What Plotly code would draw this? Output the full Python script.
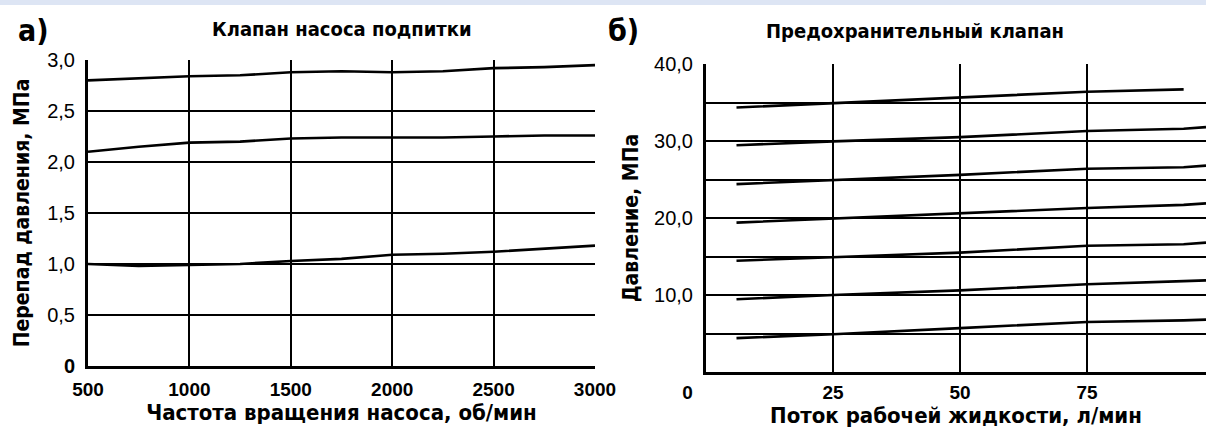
import plotly.graph_objects as go

# ---- data: panel а) charge pump valve ----
rpm = [500, 750, 1000, 1250, 1500, 1750, 2000, 2250, 2500, 2750, 3000]
dp_top = [2.80, 2.82, 2.84, 2.85, 2.88, 2.89, 2.88, 2.89, 2.92, 2.93, 2.95]
dp_mid = [2.10, 2.15, 2.19, 2.20, 2.23, 2.24, 2.24, 2.24, 2.25, 2.26, 2.26]
dp_low = [1.00, 0.98, 0.99, 1.00, 1.03, 1.05, 1.09, 1.10, 1.12, 1.15, 1.18]
rpm_ticks = [500, 1000, 1500, 2000, 2500, 3000]
rpm_ticktext = ["500", "1000", "1500", "2000", "2500", "3000"]
dp_ticks = [0, 0.5, 1.0, 1.5, 2.0, 2.5, 3.0]
dp_ticktext = ["<b>0</b>", "0,5", "1,0", "1,5", "2,0", "2,5", "3,0"]

# ---- data: panel б) relief valve ----
flow = [6, 25, 50, 75, 94, 98.4]
p35 = [34.35, 34.9, 35.6, 36.4, 36.7, None]
p30 = [29.45, 29.95, 30.5, 31.3, 31.6, 31.8]
p25 = [24.4, 24.9, 25.6, 26.4, 26.6, 26.8]
p20 = [19.4, 19.95, 20.6, 21.3, 21.7, 21.9]
p15 = [14.45, 14.9, 15.5, 16.4, 16.6, 16.8]
p10 = [9.45, 10.0, 10.6, 11.4, 11.8, 11.9]
p5 = [4.4, 4.9, 5.7, 6.5, 6.7, 6.8]
flow_ticks = [0, 25, 50, 75]
flow_ticktext = ["0" + "\u00a0" * 7, "25", "50", "75"]
p_ticks = [5, 10, 15, 20, 25, 30, 35, 40]
p_ticktext = ["", "10,0", "", "20,0", "", "30,0", "", "40,0"]

W, H = 1206, 428
TITLE_FONT = "Liberation Sans Narrow, DejaVu Sans Condensed, Arial Narrow, Arial, sans-serif"
TICK_FONT = "Liberation Sans, Arial, sans-serif"

fig = go.Figure()
line = dict(color="black", width=2.6)
for ys in (dp_top, dp_mid, dp_low):
    fig.add_trace(go.Scatter(x=rpm, y=ys, mode="lines", line=line,
                             xaxis="x", yaxis="y", showlegend=False, hoverinfo="skip"))
for ys in (p35, p30, p25, p20, p15, p10, p5):
    fig.add_trace(go.Scatter(x=flow, y=ys, mode="lines", line=line,
                             xaxis="x2", yaxis="y2", showlegend=False, hoverinfo="skip"))

axis_common = dict(showgrid=True, gridcolor="black", gridwidth=1.5, zeroline=False,
                   showline=True, linecolor="black", linewidth=3, ticks="",
                   fixedrange=True, automargin=False)

fig.update_layout(
    width=W, height=H,
    margin=dict(l=0, r=0, t=0, b=0, autoexpand=False),
    paper_bgcolor="white", plot_bgcolor="white",
    xaxis=dict(domain=[88 / W, 595 / W], range=[500, 3000], anchor="y",
               tickvals=rpm_ticks, ticktext=rpm_ticktext,
               tickfont=dict(family=TICK_FONT, size=19, color="black", weight="bold"),
               ticklabelstandoff=4,
               title=dict(text="<b>Частота вращения насоса, об/мин</b>",
                          font=dict(family=TITLE_FONT, size=22, color="black"), standoff=4),
               **axis_common),
    yaxis=dict(domain=[1 - 366 / H, 1 - 60 / H], range=[0, 3.0], anchor="x",
               tickvals=dp_ticks, ticktext=dp_ticktext,
               tickfont=dict(family=TICK_FONT, size=20, color="black"),
               ticklabelstandoff=6,
               title=dict(text="<b>Перепад давления, МПа</b>",
                          font=dict(family=TITLE_FONT, size=21, color="black"), standoff=12),
               **axis_common),
    xaxis2=dict(domain=[706 / W, 1.0], range=[0, 98.4], anchor="y2",
                tickvals=flow_ticks, ticktext=flow_ticktext,
                tickfont=dict(family=TICK_FONT, size=19, color="black", weight="bold"),
                ticklabelstandoff=1,
                title=dict(text="<b>Поток рабочей жидкости, л/мин</b>",
                           font=dict(family=TITLE_FONT, size=22, color="black"), standoff=4),
                **axis_common),
    yaxis2=dict(domain=[1 - 372 / H, 1 - 64 / H], range=[0, 40], anchor="x2",
                tickvals=p_ticks, ticktext=p_ticktext,
                tickfont=dict(family=TICK_FONT, size=20, color="black"),
                ticklabelstandoff=6,
                title=dict(text="<b>Давление, МПа</b>",
                           font=dict(family=TITLE_FONT, size=21, color="black"), standoff=10),
                **axis_common),
    shapes=[dict(type="rect", xref="paper", yref="paper", x0=0, x1=1,
                 y0=1 - 5 / H, y1=1, fillcolor="#dde5f4", line=dict(width=0), layer="below")],
    annotations=[
        dict(text="<b>а)</b>", x=16 / W, y=1 - 31 / H, xref="paper", yref="paper",
             xanchor="left", yanchor="middle", showarrow=False,
             font=dict(family=TITLE_FONT, size=30, color="black")),
        dict(text="<b>б)</b>", x=606 / W, y=1 - 31 / H, xref="paper", yref="paper",
             xanchor="left", yanchor="middle", showarrow=False,
             font=dict(family=TITLE_FONT, size=30, color="black")),
        dict(text="<b>Клапан насоса подпитки</b>", x=342 / W, y=1 - 29 / H,
             xref="paper", yref="paper", xanchor="center", yanchor="middle", showarrow=False,
             font=dict(family=TITLE_FONT, size=20, color="black")),
        dict(text="<b>Предохранительный клапан</b>", x=915 / W, y=1 - 31 / H,
             xref="paper", yref="paper", xanchor="center", yanchor="middle", showarrow=False,
             font=dict(family=TITLE_FONT, size=20, color="black")),
    ],
)

fig.write_html("out.html", config={"displayModeBar": False},
               post_script="document.body.style.margin='0';document.body.style.overflow='hidden';")
